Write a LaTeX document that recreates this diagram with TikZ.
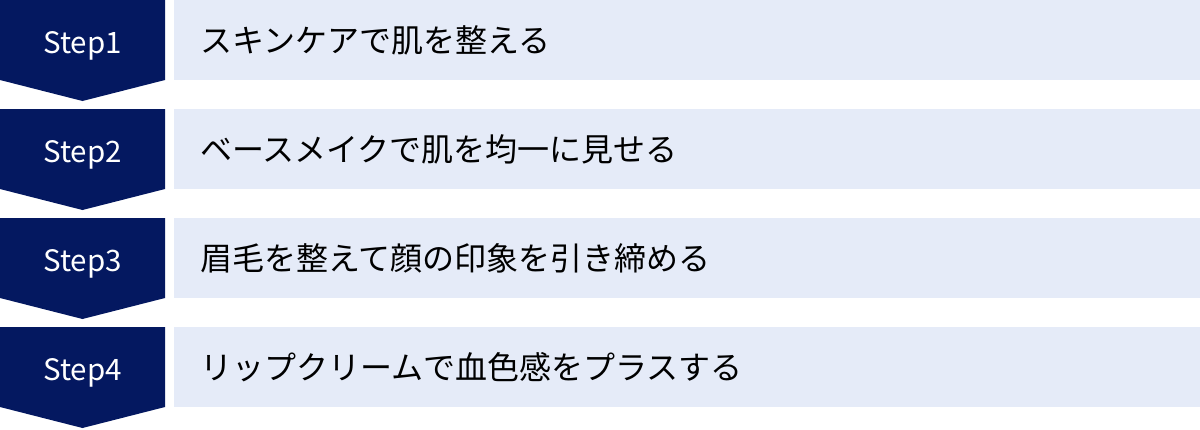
\documentclass[tikz,border=0pt]{standalone}
\usepackage{fontspec}
\setmainfont{Noto Sans CJK JP}
\newfontfamily\jpfont{Noto Sans CJK JP}
\newfontfamily\latfont{Noto Sans CJK JP}
\definecolor{navy}{HTML}{041860}
\definecolor{pale}{HTML}{E5EBF8}
\tikzset{
  stepshape/.style={fill=navy},
  steplabel/.style={text=white, font=\latfont\fontsize{29.5}{34}\selectfont, inner sep=0pt, anchor=base},
  barbox/.style={fill=pale, draw=none, minimum width=1026pt, minimum height=80pt, anchor=north west, inner sep=0pt},
  bartext/.style={text=black, font=\jpfont\fontsize{32}{38}\selectfont, anchor=west, inner sep=0pt}
}
\begin{document}
\begin{tikzpicture}[x=1pt,y=-1pt]
\useasboundingbox (0,0) rectangle (1200,429);
\foreach \i/\txt in {0/{スキンケアで肌を整える},1/{ベースメイクで肌を均一に見せる},2/{眉毛を整えて顔の印象を引き締める},3/{リップクリームで血色感をプラスする}}{
  \pgfmathsetmacro{\yy}{109*\i}
  \fill[stepshape] (0,\yy) -- (165,\yy) -- (165,\yy+80) -- (82.5,\yy+101) -- (0,\yy+80) -- cycle;
  \pgfmathtruncatemacro{\n}{\i+1}
  \node[steplabel] (step\n) at (82.5,\yy+53) {Step\n};
  \node[barbox] (box\n) at (174,\yy) {};
  \node[bartext] (text\n) at (200,\yy+40) {\txt};
}
\end{tikzpicture}
\end{document}
